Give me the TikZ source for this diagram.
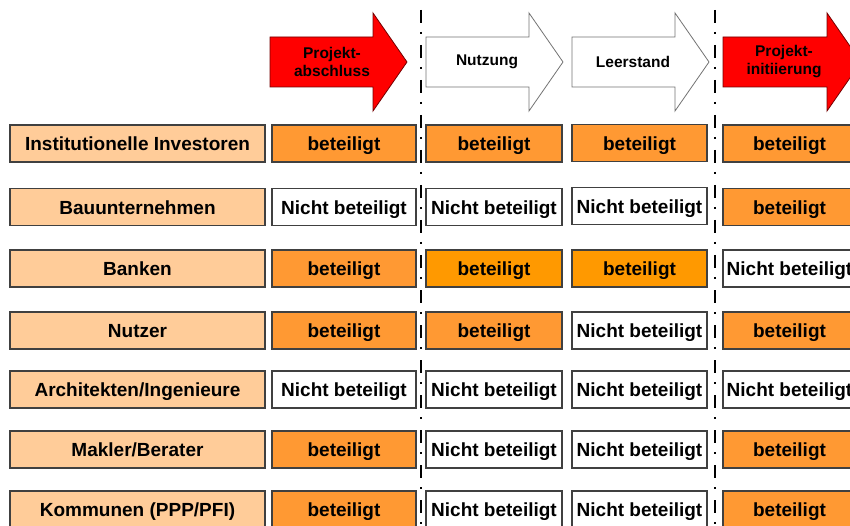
\documentclass[tikz,border=0pt]{standalone}
\usepackage{fontspec}
\setmainfont{Liberation Sans}
\definecolor{peach}{HTML}{FFCC99}
\definecolor{orng}{HTML}{FF9933}
\definecolor{orngb}{HTML}{FF9900}
\definecolor{boxline}{HTML}{404040}
\tikzset{
  cell/.style={draw=boxline, line width=1.3pt, minimum height=37pt, inner sep=0pt,
    text height=14.4pt, text depth=0pt,
    font=\fontsize{19}{22}\selectfont\bfseries, text=black},
  lbl/.style={cell, fill=peach, minimum width=255pt},
  yes/.style={cell, fill=orng},
  yesb/.style={cell, fill=orngb},
  no/.style={cell, fill=white},
  wa/.style={minimum width=144pt},
  wb/.style={minimum width=136pt},
  wc/.style={minimum width=135pt},
  wd/.style={minimum width=133pt},
  phaseline/.style={line width=2.8pt, dash pattern=on 13pt off 9pt on 2pt off 11pt, dash phase=25pt},
  redarrow/.style={fill=red, draw=red!45!black, line width=0.8pt},
  whitearrow/.style={fill=white, draw=black!55, line width=0.8pt},
  atext/.style={font=\fontsize{15.5}{18}\selectfont\bfseries, align=center, inner sep=0pt}
}
\begin{document}
\begin{tikzpicture}[x=1pt,y=-1pt]
\clip (0,0) rectangle (850,526);
% phase separators
\coordinate (s1t) at (421,0); \coordinate (s1b) at (421,526);
\coordinate (s2t) at (715,0); \coordinate (s2b) at (715,526);
\draw[phaseline] (s1t) -- (s1b);
\draw[phaseline] (s2t) -- (s2b);
% arrows
\path[redarrow] (270,37) -- (373,37) -- (373,13) -- (407,62) -- (373,111) -- (373,87) -- (270,87) -- cycle;
\path[whitearrow] (426,37) -- (529,37) -- (529,13) -- (563,62) -- (529,111) -- (529,87) -- (426,87) -- cycle;
\path[whitearrow] (572,37) -- (675,37) -- (675,13) -- (709,62) -- (675,111) -- (675,87) -- (572,87) -- cycle;
\path[redarrow] (723,37) -- (827,37) -- (827,13) -- (861,62) -- (827,111) -- (827,87) -- (723,87) -- cycle;
\node[atext] (a1) at (332,62) {Projekt-\\abschluss};
\node[atext] (a2) at (487,62) {Nutzung};
\node[atext] (a3) at (633,62) {Leerstand};
\node[atext] (a4) at (784,62) {Projekt-\\initiierung};
% row 1
\node[lbl] (l1) at (137.5,143.5) {Institutionelle Investoren};
\node[yes,wa] (c11) at (344,143.5) {beteiligt};
\node[yes,wb] (c12) at (494,143.5) {beteiligt};
\node[yes,wc] (c13) at (639.5,143) {beteiligt};
\node[yes,wd] (c14) at (789.5,143.5) {beteiligt};
% row 2
\node[lbl] (l2) at (137.5,207) {Bauunternehmen};
\node[no,wa] (c21) at (344,207) {Nicht beteiligt};
\node[no,wb] (c22) at (494,207) {Nicht beteiligt};
\node[no,wc] (c23) at (639.5,206) {Nicht beteiligt};
\node[yes,wd] (c24) at (789.5,207) {beteiligt};
% row 3
\node[lbl] (l3) at (137.5,268.5) {Banken};
\node[yes,wa] (c31) at (344,268.5) {beteiligt};
\node[yesb,wb] (c32) at (494,268.5) {beteiligt};
\node[yesb,wc] (c33) at (639.5,268.5) {beteiligt};
\node[no,wd] (c34) at (789.5,268.5) {Nicht beteiligt};
% row 4
\node[lbl] (l4) at (137.5,330.5) {Nutzer};
\node[yes,wa] (c41) at (344,330.5) {beteiligt};
\node[yes,wb] (c42) at (494,330.5) {beteiligt};
\node[no,wc] (c43) at (639.5,330.5) {Nicht beteiligt};
\node[yes,wd] (c44) at (789.5,330.5) {beteiligt};
% row 5
\node[lbl] (l5) at (137.5,389.5) {Architekten/Ingenieure};
\node[no,wa] (c51) at (344,389.5) {Nicht beteiligt};
\node[no,wb] (c52) at (494,389.5) {Nicht beteiligt};
\node[no,wc] (c53) at (639.5,389.5) {Nicht beteiligt};
\node[no,wd] (c54) at (789.5,389.5) {Nicht beteiligt};
% row 6
\node[lbl] (l6) at (137.5,449.5) {Makler/Berater};
\node[yes,wa] (c61) at (344,449.5) {beteiligt};
\node[no,wb] (c62) at (494,449.5) {Nicht beteiligt};
\node[no,wc] (c63) at (639.5,449.5) {Nicht beteiligt};
\node[yes,wd] (c64) at (789.5,449.5) {beteiligt};
% row 7
\node[lbl] (l7) at (137.5,509.5) {Kommunen (PPP/PFI)};
\node[yes,wa] (c71) at (344,509.5) {beteiligt};
\node[no,wb] (c72) at (494,509.5) {Nicht beteiligt};
\node[no,wc] (c73) at (639.5,509.5) {Nicht beteiligt};
\node[yes,wd] (c74) at (789.5,509.5) {beteiligt};
\end{tikzpicture}
\end{document}
